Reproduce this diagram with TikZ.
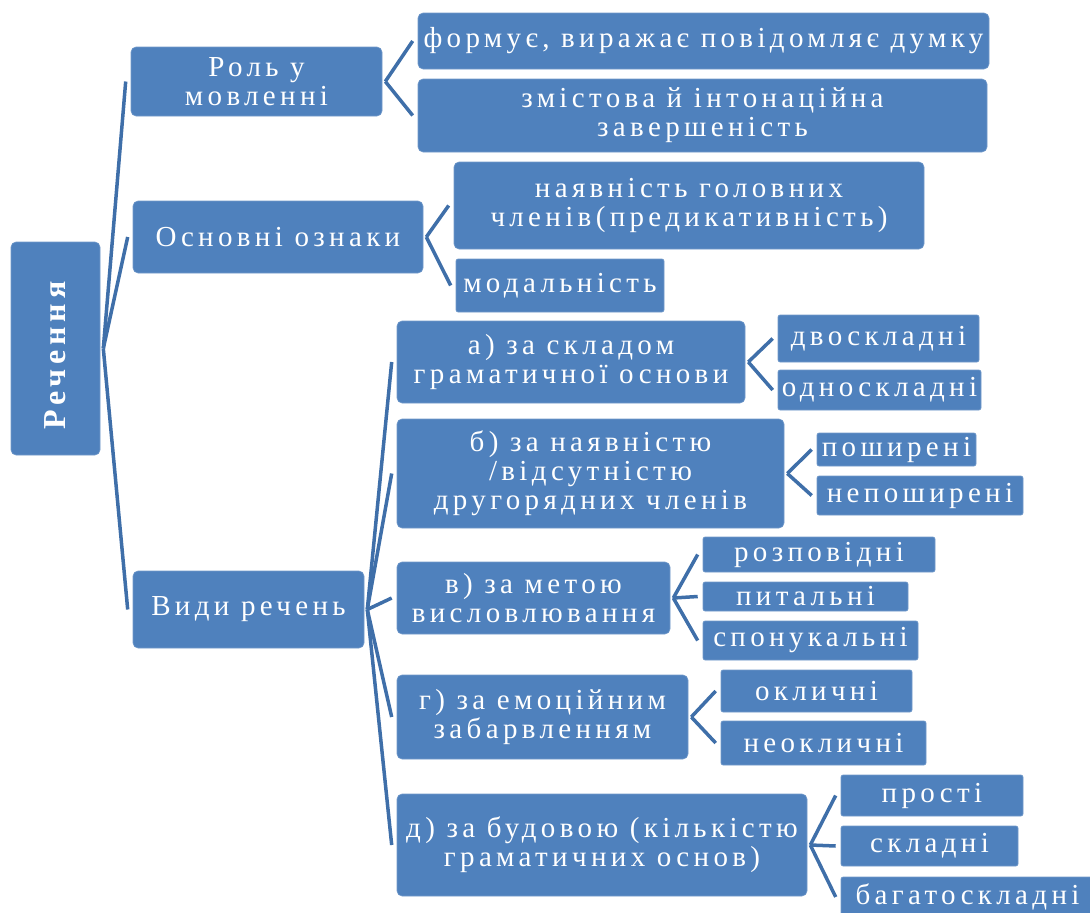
\documentclass[tikz,border=0pt]{standalone}
\usepackage{fontspec}
\usepackage{xcolor}
\usepackage{tikz}
\newfontfamily\boxfont{Liberation Serif}[LetterSpace=15]
\definecolor{boxblue}{HTML}{4F81BD}
\definecolor{lineblue}{HTML}{3F6FA9}
\tikzset{
  box/.style={fill=boxblue, draw=boxblue!80!white, line width=0.6pt, rounded corners=5pt,
    text=white, inner sep=0pt, align=center},
  leaf/.style={box, rounded corners=2pt},
  link/.style={draw=lineblue, line width=3.5pt}
}
\begin{document}
\begin{tikzpicture}[x=1pt,y=-1pt]
                        \useasboundingbox (0,0) rectangle (1090,913);
                        {\boxfont\fontsize{29}{29}\selectfont

                        % Drawing root box
                        \node (rech) [box, minimum width=89, minimum height=213] at (55.5,348.5)
                          {\rotatebox{90}{\bfseries\fontsize{32}{32}\selectfont Речення\hspace*{14pt}}};%

                        % Drawing boxes of level 1
                        \node (rol) [box, minimum width=251, minimum height=69] at (256.5,81.5) {Роль у\\мовленні};%
                        \node (osn) [box, minimum width=290, minimum height=72] at (278.0,237.0) {Основні ознаки};%
                        \node (vydy) [box, minimum width=231, minimum height=77] at (248.5,609.5) {Види речень};%

                        % Drawing boxes of level 2
                        \node (form) [box, minimum width=571, minimum height=56] at (703.5,41.0) {формує, виражає повідомляє думку};%
                        \node (zmist) [box, minimum width=569, minimum height=73] at (702.5,115.5) {змістова й інтонаційна\\завершеність};%
                        \node (nayav) [box, minimum width=470, minimum height=87] at (689.0,205.5) {наявність головних\\членів(предикативність)};%
                        \node (modal) [leaf, minimum width=208, minimum height=53] at (560.0,285.5) {модальність};%
                        \node (a) [box, minimum width=348, minimum height=82] at (571.0,362.0) {а) за складом\\граматичної основи};%
                        \node (b) [box, minimum width=387, minimum height=109] at (590.5,473.5) {б) за наявністю\\/відсутністю\\другорядних членів};%
                        \node (v) [box, minimum width=273, minimum height=72] at (533.5,598.0) {в) за метою\\висловлювання};%
                        \node (g) [box, minimum width=291, minimum height=84] at (542.5,717.0) {г) за емоційним\\забарвленням};%
                        \node (d) [box, minimum width=410, minimum height=102] at (602.0,845.0) {д) за будовою (кількістю\\граматичних основ)};%

                        % Drawing boxes of level 3
                        \node (dvo) [leaf, minimum width=201, minimum height=47] at (878.5,338.5) {двоскладні};%
                        \node (odno) [leaf, minimum width=203, minimum height=40] at (879.5,390.0) {односкладні};%
                        \node (posh) [leaf, minimum width=159, minimum height=33] at (896.5,449.5) {поширені};%
                        \node (neposh) [leaf, minimum width=206, minimum height=39] at (920.0,495.5) {непоширені};%
                        \node (rozp) [leaf, minimum width=232, minimum height=35] at (819.0,554.5) {розповідні};%
                        \node (pyt) [leaf, minimum width=205, minimum height=29] at (805.5,596.5) {питальні};%
                        \node (spon) [leaf, minimum width=215, minimum height=39] at (810.5,640.5) {спонукальні};%
                        \node (okl) [leaf, minimum width=191, minimum height=42] at (816.5,691.0) {окличні};%
                        \node (neokl) [leaf, minimum width=205, minimum height=44] at (823.5,743.0) {неокличні};%
                        \node (prost) [leaf, minimum width=182, minimum height=41] at (932.0,795.5) {прості};%
                        \node (sklad) [leaf, minimum width=177, minimum height=40] at (929.5,846.0) {складні};%
                        \node (bagato) [leaf, minimum width=253, minimum height=40] at (967.5,897.0) {багатоскладні};%

                        % Drawing connectors parent -- child
                        \foreach \p/\c in {rech/rol, rech/osn, rech/vydy,
                            rol/form, rol/zmist, osn/nayav, osn/modal,
                            vydy/a, vydy/b, vydy/v, vydy/g, vydy/d,
                            a/dvo, a/odno, b/posh, b/neposh,
                            v/rozp, v/pyt, v/spon, g/okl, g/neokl,
                            d/prost, d/sklad, d/bagato}
                          \draw [link] ([xshift=3pt]\p.east) -- ([xshift=-5pt]\c.west);%
                        }
\end{tikzpicture}
\end{document}
